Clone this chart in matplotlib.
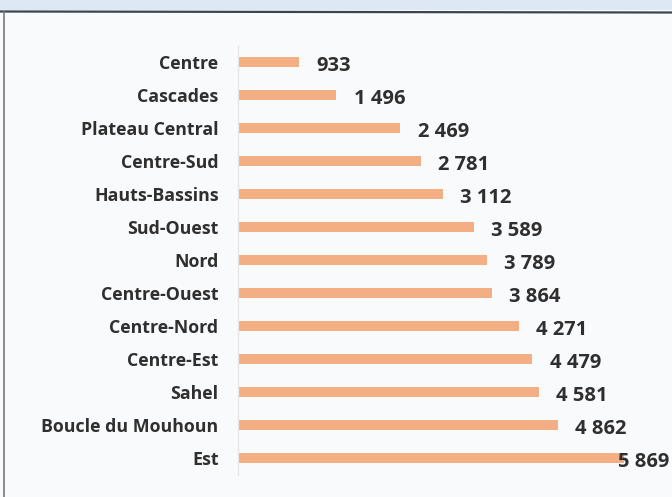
import matplotlib.pyplot as plt
from matplotlib.lines import Line2D
from matplotlib.patches import Rectangle

regions = ['Centre', 'Cascades', 'Plateau Central', 'Centre-Sud', 'Hauts-Bassins',
           'Sud-Ouest', 'Nord', 'Centre-Ouest', 'Centre-Nord', 'Centre-Est',
           'Sahel', 'Boucle du Mouhoun', 'Est']
values = [933, 1496, 2469, 2781, 3112, 3589, 3789, 3864, 4271, 4479, 4581, 4862, 5869]

bar_color = '#f3ae84'
text_color = '#2f2f2f'

fig = plt.figure(figsize=(6.72, 4.97), dpi=100, facecolor='#f9fafc')

# page frame: blue band on top, rule under it, left edge
fig.patches.append(Rectangle((0, 1 - 10 / 497), 1, 10 / 497, transform=fig.transFigure,
                             facecolor='#dde8f4', edgecolor='none'))
fig.lines.append(Line2D([0, 1], [1 - 11.5 / 497, 1 - 12.5 / 497], transform=fig.transFigure,
                        color='#3c4350', lw=1.6))
fig.lines.append(Line2D([4 / 672, 4 / 672], [0, 1 - 12 / 497], transform=fig.transFigure,
                        color='#7a7a7a', lw=1.2))

ax = fig.add_axes([238 / 672, 22.5 / 497, 422 / 672, 429 / 497])
ax.set_facecolor('none')
pos = range(len(regions))
ax.barh(pos, values, height=0.3, color=bar_color)
ax.set_ylim(len(regions) - 0.5, -0.5)
ax.set_xlim(0, 6420)

ax.set_yticks(list(pos))
ax.set_yticklabels(regions, fontsize=12.8, fontweight='bold', color=text_color, family='Open Sans')
ax.tick_params(axis='y', length=0, pad=14)
ax.set_xticks([])
for s in ['top', 'right', 'bottom']:
    ax.spines[s].set_visible(False)
ax.spines['left'].set_color('#e4e6ea')
ax.spines['left'].set_linewidth(1.0)

for i, v in enumerate(values):
    label = f'{v:,}'.replace(',', ' ')
    dx = -4.5 if v == max(values) else 12.5
    ax.annotate(label, (v, i), xytext=(dx, -3), textcoords='offset points',
                ha='left', va='center', fontsize=14.5, fontweight='bold',
                color=text_color, family='Open Sans')

fig.savefig('out.png', dpi=100, facecolor=fig.get_facecolor())
